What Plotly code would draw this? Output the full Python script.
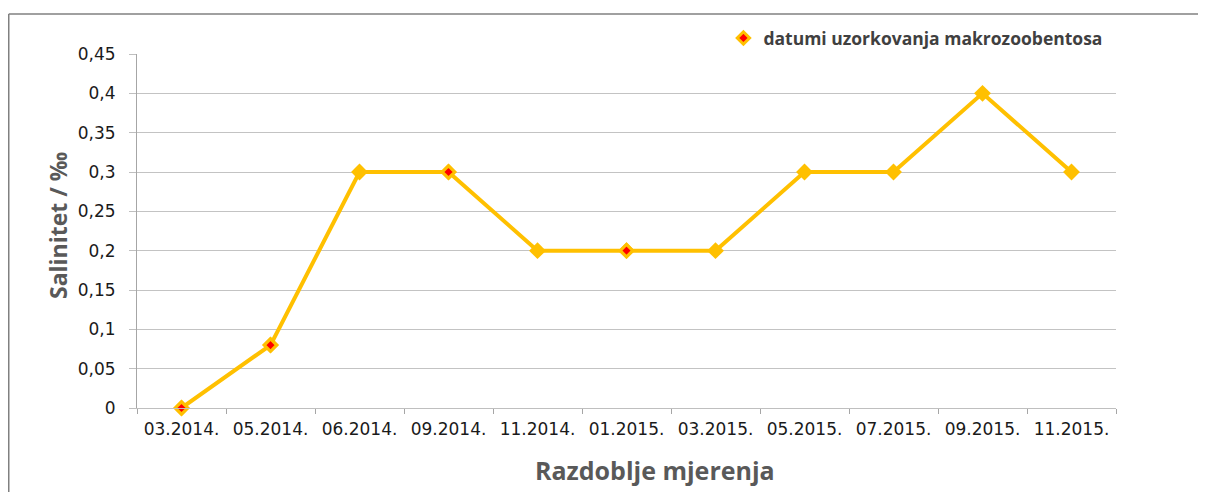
import plotly.graph_objects as go

categories = ["03.2014.", "05.2014.", "06.2014.", "09.2014.", "11.2014.", "01.2015.",
              "03.2015.", "05.2015.", "07.2015.", "09.2015.", "11.2015."]
salinity = [0, 0.08, 0.3, 0.3, 0.2, 0.2, 0.2, 0.3, 0.3, 0.4, 0.3]
sampling_dates = ["03.2014.", "05.2014.", "09.2014.", "01.2015."]
sampling_values = [0, 0.08, 0.3, 0.2]
y_tick_vals = [0, 0.05, 0.1, 0.15, 0.2, 0.25, 0.3, 0.35, 0.4, 0.45]
y_tick_text = ["0", "0,05", "0,1", "0,15", "0,2", "0,25", "0,3", "0,35", "0,4", "0,45"]

GOLD = "#FFC000"

fig = go.Figure()
fig.add_trace(go.Scatter(
    x=categories, y=salinity, mode="lines+markers",
    line=dict(color=GOLD, width=4),
    marker=dict(symbol="diamond", size=13, color=GOLD),
    showlegend=False, cliponaxis=False,
))
fig.add_trace(go.Scatter(
    x=sampling_dates, y=sampling_values, mode="markers",
    marker=dict(symbol="diamond", size=9.5, color="#FF0000",
                line=dict(color=GOLD, width=3)),
    name="datumi uzorkovanja makrozoobentosa", cliponaxis=False,
))

fig.update_layout(
    width=1190, height=484,
    margin=dict(l=129, r=82, t=46, b=84),
    paper_bgcolor="white", plot_bgcolor="white",
    font=dict(family="DejaVu Sans", size=17, color="#1a1a1a"),
    showlegend=True,
    legend=dict(x=0.599, y=1.045, xanchor="left", yanchor="middle",
                bgcolor="rgba(255,255,255,0)",
                font=dict(family="Open Sans", size=17.5, color="#404040", weight="bold")),
    xaxis=dict(type="category", tickson="boundaries", ticks="outside", ticklen=5,
               tickcolor="#a6a6a6", showline=True, linecolor="#bfbfbf", linewidth=1,
               showgrid=False, ticklabelstandoff=6,
               tickfont=dict(family="DejaVu Sans", size=17, color="#1a1a1a"),
               range=[-0.5, 10.5]),
    yaxis=dict(range=[0, 0.45], tickvals=y_tick_vals, ticktext=y_tick_text,
               ticks="outside", ticklen=7, tickcolor="#bfbfbf",
               showline=True, linecolor="#a6a6a6", linewidth=1, ticklabelstandoff=10,
               showgrid=True, gridcolor="#c3c3c3", gridwidth=1, zeroline=False,
               tickfont=dict(family="DejaVu Sans", size=17, color="#1a1a1a")),
    annotations=[
        dict(text="Salinitet / ‰", xref="paper", yref="paper", x=-0.0807, y=0.517,
             xanchor="center", yanchor="middle",
             textangle=-90, showarrow=False,
             font=dict(family="Open Sans", size=23, color="#595959", weight="bold")),
        dict(text="Razdoblje mjerenja", xref="paper", yref="paper", x=0.529, y=-0.175,
             xanchor="center", yanchor="middle", showarrow=False,
             font=dict(family="Open Sans", size=25, color="#595959", weight="bold")),
    ],
    shapes=[
        dict(type="line", xref="paper", yref="paper", x0=-0.1310, x1=1.1, y0=1.113, y1=1.113,
             line=dict(color="#808080", width=1.5)),
        dict(type="line", xref="paper", yref="paper", x0=-0.1310, x1=-0.1310, y0=1.113, y1=-0.27,
             line=dict(color="#808080", width=1.5)),
    ],
)

fig.write_html("out.html")
